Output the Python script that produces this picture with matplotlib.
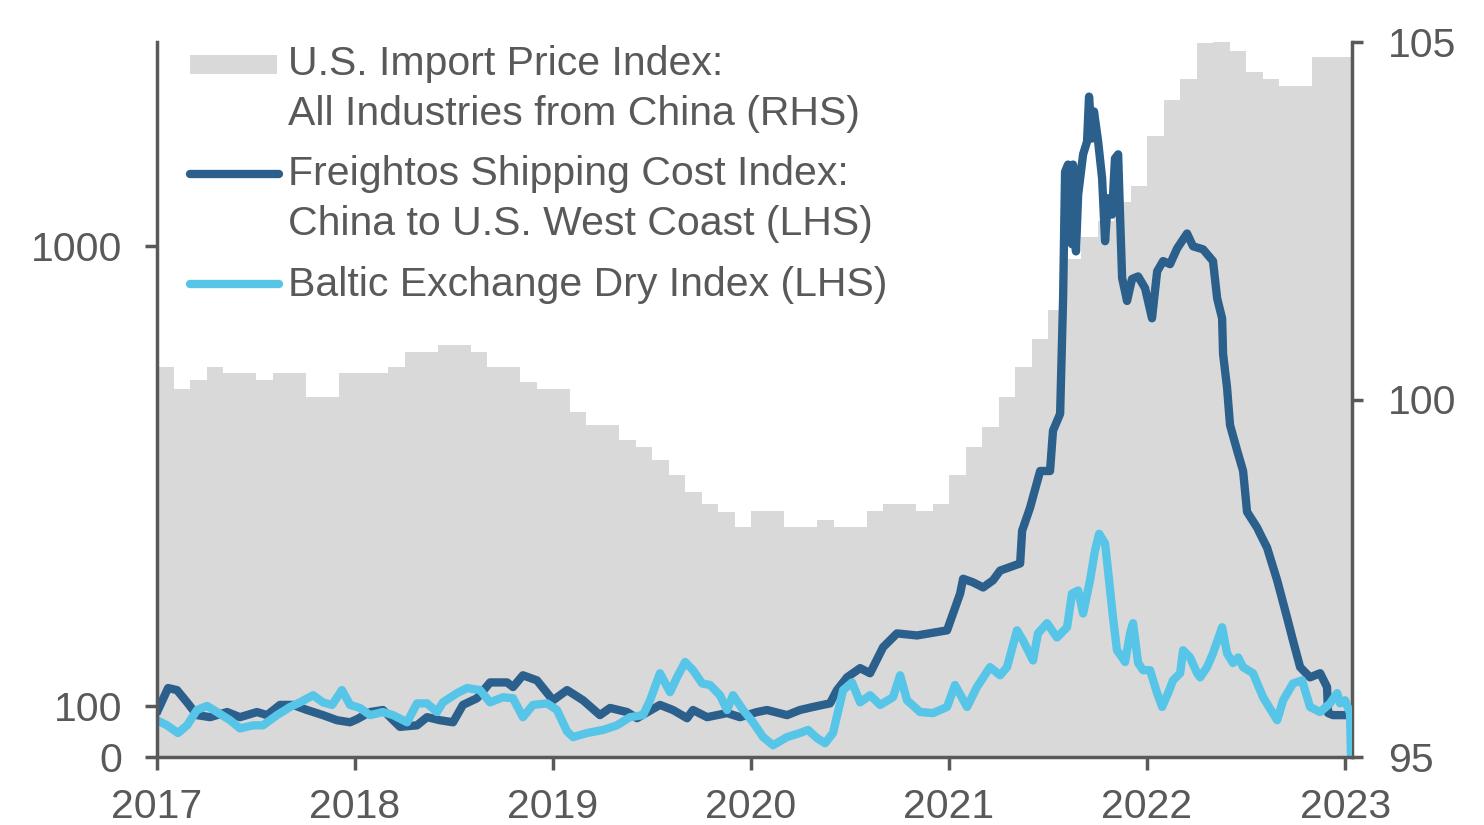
import numpy as np
import matplotlib.pyplot as plt
from matplotlib.lines import Line2D
from matplotlib.patches import Rectangle

plt.rcParams['font.family'] = ['Liberation Sans', 'DejaVu Sans']

W, H = 1484, 825
GRIS_TXT = '#595959'
AZUL = '#2B5F8C'
CELESTE = '#56C5E8'
GRIS = '#D9D9D9'

# U.S. import price index from China, monthly, ene 2017 - ene 2023 (RHS)
imp_2017 = [100.45, 100.14, 100.27, 100.45, 100.37, 100.37, 100.27, 100.37, 100.37, 100.04, 100.04, 100.37]
imp_2018 = [100.37, 100.37, 100.45, 100.66, 100.66, 100.76, 100.76, 100.66, 100.45, 100.45, 100.25, 100.14]
imp_2019 = [100.14, 99.83, 99.65, 99.65, 99.43, 99.34, 99.16, 98.94, 98.71, 98.54, 98.43, 98.22]
imp_2020 = [98.44, 98.44, 98.22, 98.22, 98.32, 98.22, 98.22, 98.44, 98.54, 98.54, 98.44, 98.54]
imp_2021 = [98.94, 99.34, 99.62, 100.04, 100.45, 100.84, 101.25, 101.96, 102.27, 102.50, 102.76, 102.98]
imp_2022 = [103.68, 104.19, 104.48, 104.99, 105.04, 104.87, 104.58, 104.48, 104.38, 104.38, 104.79, 104.79]
imp_2023 = [104.79]

# Freightos China -> US West Coast (LHS), fechas en años decimales
freight_t = [2017.005, 2017.056, 2017.101, 2017.152, 2017.202, 2017.268, 2017.354, 2017.419,
             2017.505, 2017.556, 2017.621, 2017.687, 2017.758, 2017.838, 2017.909, 2017.975,
             2018.010, 2018.076, 2018.141, 2018.227, 2018.313, 2018.364, 2018.429, 2018.495,
             2018.545, 2018.616, 2018.682, 2018.768, 2018.798, 2018.848, 2018.919, 2019.000,
             2019.071, 2019.152, 2019.237, 2019.288, 2019.374, 2019.424, 2019.540, 2019.606,
             2019.677, 2019.707, 2019.778, 2019.879, 2019.944, 2020.030, 2020.081, 2020.182,
             2020.247, 2020.313, 2020.399, 2020.434, 2020.485, 2020.551, 2020.601, 2020.667,
             2020.737, 2020.838, 2020.990, 2021.020, 2021.056, 2021.071, 2021.121, 2021.172,
             2021.222, 2021.258, 2021.359, 2021.369, 2021.409, 2021.460, 2021.510, 2021.525,
             2021.561, 2021.576, 2021.586, 2021.601, 2021.621, 2021.626, 2021.641, 2021.652,
             2021.677, 2021.697, 2021.707, 2021.722, 2021.732, 2021.753, 2021.773, 2021.788,
             2021.803, 2021.823, 2021.838, 2021.854, 2021.864, 2021.874, 2021.899, 2021.924,
             2021.955, 2021.990, 2022.025, 2022.051, 2022.081, 2022.116, 2022.152, 2022.202,
             2022.232, 2022.283, 2022.333, 2022.354, 2022.379, 2022.384, 2022.404, 2022.419,
             2022.455, 2022.485, 2022.505, 2022.556, 2022.571, 2022.606, 2022.657, 2022.707,
             2022.737, 2022.773, 2022.823, 2022.874, 2022.909, 2022.914, 2022.939, 2023.010]
freight_v = [92, 135, 131, 107, 82, 78, 88, 78,
             88, 82, 102, 102, 92, 82, 72, 68,
             74, 88, 92, 59, 62, 78, 72, 68,
             102, 115, 146, 146, 137, 160, 150, 111,
             131, 111, 82, 96, 88, 76, 102, 92,
             76, 92, 78, 86, 78, 88, 92, 82,
             92, 98, 105, 131, 156, 174, 164, 215,
             242, 238, 248, 281, 320, 349, 342, 332,
             346, 365, 379, 443, 488, 560, 560, 639,
             672, 898, 1146, 1160, 1004, 1160, 990, 1101,
             1180, 1205, 1293, 1211, 1264, 1205, 1133, 1010,
             1094, 1062, 1172, 1180, 1055, 938, 893, 936,
             941, 918, 859, 951, 971, 965, 996, 1025,
             1000, 994, 971, 898, 859, 789, 723, 650,
             600, 560, 480, 449, 437, 410, 346, 273,
             228, 176, 156, 164, 137, 86, 82, 82]

# Baltic Exchange Dry Index (LHS)
baltic_t = [2017.000, 2017.051, 2017.106, 2017.152, 2017.202, 2017.253, 2017.303, 2017.369,
            2017.419, 2017.485, 2017.535, 2017.606, 2017.672, 2017.722, 2017.788, 2017.838,
            2017.884, 2017.934, 2017.975, 2018.025, 2018.076, 2018.141, 2018.192, 2018.263,
            2018.313, 2018.364, 2018.414, 2018.444, 2018.515, 2018.566, 2018.631, 2018.682,
            2018.747, 2018.798, 2018.848, 2018.899, 2018.970, 2019.020, 2019.071, 2019.101,
            2019.172, 2019.253, 2019.323, 2019.389, 2019.455, 2019.490, 2019.540, 2019.591,
            2019.626, 2019.667, 2019.707, 2019.753, 2019.793, 2019.843, 2019.879, 2019.909,
            2019.960, 2020.010, 2020.061, 2020.111, 2020.182, 2020.247, 2020.288, 2020.333,
            2020.374, 2020.414, 2020.465, 2020.510, 2020.551, 2020.601, 2020.652, 2020.717,
            2020.753, 2020.788, 2020.854, 2020.919, 2020.990, 2021.030, 2021.091, 2021.141,
            2021.207, 2021.258, 2021.293, 2021.343, 2021.374, 2021.424, 2021.449, 2021.495,
            2021.545, 2021.596, 2021.621, 2021.652, 2021.677, 2021.712, 2021.737, 2021.758,
            2021.788, 2021.803, 2021.828, 2021.848, 2021.874, 2021.889, 2021.914, 2021.929,
            2021.955, 2021.980, 2022.015, 2022.051, 2022.076, 2022.106, 2022.131, 2022.167,
            2022.182, 2022.217, 2022.253, 2022.268, 2022.303, 2022.333, 2022.379, 2022.404,
            2022.434, 2022.460, 2022.485, 2022.535, 2022.586, 2022.657, 2022.687, 2022.737,
            2022.783, 2022.823, 2022.874, 2022.924, 2022.960, 2022.975, 2023.000, 2023.025,
            2023.030]
baltic_v = [72, 62, 47, 62, 92, 100, 88, 72,
            56, 62, 62, 82, 98, 107, 121, 107,
            102, 131, 102, 96, 82, 88, 82, 68,
            105, 105, 88, 107, 125, 135, 131, 107,
            117, 115, 78, 102, 105, 92, 50, 39,
            47, 53, 62, 78, 82, 111, 164, 127,
            156, 186, 170, 144, 141, 121, 92, 121,
            92, 68, 39, 23, 39, 47, 53, 37,
            27, 47, 131, 146, 107, 121, 102, 117,
            160, 111, 88, 86, 98, 141, 98, 137,
            176, 160, 176, 248, 228, 189, 242, 262,
            234, 254, 320, 326, 281, 346, 404, 437,
            418, 365, 273, 209, 195, 186, 242, 262,
            184, 170, 170, 125, 98, 125, 150, 164,
            209, 195, 164, 156, 176, 203, 254, 203,
            184, 195, 176, 164, 117, 72, 111, 144,
            150, 98, 88, 105, 125, 105, 111, 86,
            0]

anios = [2017, 2018, 2019, 2020, 2021, 2022, 2023]
x_fin = 2023.035

#%%
imp = imp_2017 + imp_2018 + imp_2019 + imp_2020 + imp_2021 + imp_2022 + imp_2023
imp_t = list(2017 + np.arange(len(imp)) / 12) + [x_fin]
imp = imp + [imp[-1]]

fig = plt.figure(figsize=(W / 100, H / 100), dpi=100)
ax = fig.add_axes([157 / W, 1 - 757 / H, (1352 - 157) / W, (757 - 42) / H])
ax2 = ax.twinx()

ax2.fill_between(imp_t, 95, imp, step='post', color=GRIS, lw=0)
ax2.set_ylim(95, 105)

ax.plot(freight_t, freight_v, color=AZUL, lw=6, solid_joinstyle='round')
ax.plot(baltic_t, baltic_v, color=CELESTE, lw=6, solid_joinstyle='round')
ax.set_ylim(0, 1400)
ax.set_xlim(2017, x_fin)

# el eje izquierdo arriba del area gris
ax.set_zorder(ax2.get_zorder() + 1)
ax.patch.set_visible(False)

for a in (ax, ax2):
    for s in a.spines.values():
        s.set_color(GRIS_TXT)
        s.set_linewidth(2.5)
    a.spines['top'].set_visible(False)
ax.spines['right'].set_visible(False)
ax2.spines['left'].set_visible(False)
ax2.spines['bottom'].set_visible(False)

ax.set_yticks([0, 100, 1000])
ax.set_xticks(anios)
ax.set_xticklabels([str(a) for a in anios])
ax2.set_yticks([95, 100, 105])
ax.tick_params(axis='y', direction='out', length=9, width=2.5, color=GRIS_TXT,
               labelcolor=GRIS_TXT, labelsize=29.5, pad=16)
ax.tick_params(axis='x', direction='out', length=9, width=2.5, color=GRIS_TXT,
               labelcolor=GRIS_TXT, labelsize=29.5, pad=13)
ax2.tick_params(axis='y', direction='out', length=8, width=2.5, color=GRIS_TXT,
                labelcolor=GRIS_TXT, labelsize=29.5, pad=18)

#%%
# leyenda armada a mano para que el simbolo quede con la primera linea
def fx(px):
    return px / W

def fy(py):
    return 1 - py / H

fig.add_artist(Rectangle((fx(190), fy(74)), (277 - 190) / W, (74 - 55) / H,
                         transform=fig.transFigure, color=GRIS, lw=0))
fig.add_artist(Line2D([fx(190), fx(279)], [fy(174), fy(174)], transform=fig.transFigure,
                      color=AZUL, lw=6, solid_capstyle='round'))
fig.add_artist(Line2D([fx(190), fx(279)], [fy(284), fy(284)], transform=fig.transFigure,
                      color=CELESTE, lw=6, solid_capstyle='round'))

lineas = [('U.S. Import Price Index:', 75),
          ('All Industries from China (RHS)', 125),
          ('Freightos Shipping Cost Index:', 185),
          ('China to U.S. West Coast (LHS)', 235),
          ('Baltic Exchange Dry Index (LHS)', 296)]
for txt, base in lineas:
    fig.text(fx(288), fy(base), txt, fontsize=29.5, color=GRIS_TXT, va='baseline', ha='left')

fig.savefig('out.png', dpi=100)
